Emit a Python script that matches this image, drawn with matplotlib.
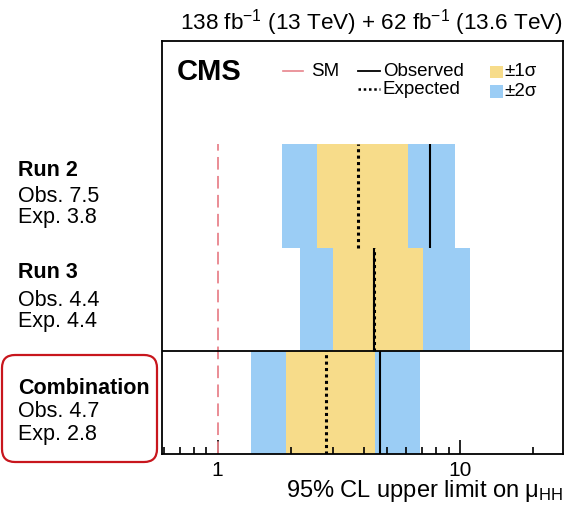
import matplotlib
matplotlib.use('Agg')
import matplotlib.pyplot as plt
import matplotlib.ticker as mticker
from matplotlib.patches import FancyBboxPatch, Rectangle
import numpy as np

plt.rcParams['font.family'] = ['Liberation Sans', 'DejaVu Sans']
plt.rcParams['mathtext.fontset'] = 'custom'
plt.rcParams['mathtext.rm'] = 'Liberation Sans'
plt.rcParams['mathtext.it'] = 'Liberation Sans:italic'
plt.rcParams['mathtext.bf'] = 'Liberation Sans:bold'

# Upper limits on mu_HH
rows = ['Run 2', 'Run 3', 'Combination']
observed = [7.5, 4.4, 4.7]
expected = [3.8, 4.4, 2.8]
band2_lo = [1.85, 2.19, 1.38]
band1_lo = [2.57, 2.99, 1.92]
band1_hi = [6.10, 7.07, 4.47]
band2_hi = [9.56, 10.96, 6.85]
row_y = [2, 1, 0]          # bottom edge of each row
sm_value = 1.0

c_yellow = '#F7DC8A'
c_blue = '#9BCDF5'
c_sm = '#E8848C'

W, H = 567, 513
fig = plt.figure(figsize=(W / 100, H / 100), dpi=100, facecolor='white')
ax = fig.add_axes([162 / W, 1 - 454 / H, 401 / W, 413 / H])

for i in range(len(rows)):
    y0 = row_y[i]
    ax.barh(y0, band2_hi[i] - band2_lo[i], left=band2_lo[i], height=1,
            align='edge', color=c_blue, linewidth=0, zorder=1)
    ax.barh(y0, band1_hi[i] - band1_lo[i], left=band1_lo[i], height=1,
            align='edge', color=c_yellow, linewidth=0, zorder=1)
    ax.vlines(observed[i], y0, y0 + 1, color='black', lw=1.5, zorder=3)
    ax.vlines(expected[i], y0, y0 + 1, color='black', lw=2.2,
              linestyles=(0, (1, 1.1)), zorder=4)

ax.vlines(sm_value, 0, 3, color=c_sm, lw=1.3, linestyles=(0, (7, 3.5)), zorder=2)
ax.axhline(1, color='black', lw=1.3, zorder=5)

ax.set_xscale('log')
ax.set_xlim(0.59, 26.6)
ax.set_ylim(0, 4)
ax.xaxis.set_major_locator(mticker.FixedLocator([1, 10]))
ax.xaxis.set_major_formatter(mticker.FixedFormatter(['1', '10']))
ax.xaxis.set_minor_locator(mticker.LogLocator(base=10, subs=np.arange(2, 10)))
ax.xaxis.set_minor_formatter(mticker.NullFormatter())
ax.tick_params(axis='x', which='major', direction='in', length=10, width=1.2,
               labelsize=15, pad=5, top=False)
ax.tick_params(axis='x', which='minor', direction='in', length=5, width=1.2, top=False)
ax.set_yticks([])
for s in ax.spines.values():
    s.set_linewidth(1.3)
    s.set_zorder(6)

# Legend (manual, in axes fraction)
tA = ax.transAxes
ax.text(0.037, 0.925, 'CMS', transform=tA, fontsize=21, fontweight='bold',
        ha='left', va='center')
ax.plot([0.302, 0.352], [0.927, 0.927], transform=tA, color=c_sm, lw=1.2)
ax.text(0.372, 0.927, 'SM', transform=tA, fontsize=13.5, ha='left', va='center')
ax.plot([0.489, 0.544], [0.927, 0.927], transform=tA, color='black', lw=1.3)
ax.text(0.551, 0.927, 'Observed', transform=tA, fontsize=13.5, ha='left', va='center')
ax.plot([0.489, 0.544], [0.884, 0.884], transform=tA, color='black', lw=1.8,
        linestyle=(0, (1, 1.1)))
ax.text(0.551, 0.882, 'Expected', transform=tA, fontsize=13.5, ha='left', va='center')
ax.add_patch(Rectangle((0.818, 0.910), 0.032, 0.030, transform=tA,
                       color=c_yellow, lw=0))
ax.text(0.853, 0.925, '±1σ', transform=tA, fontsize=13.5,
        ha='left', va='center')
ax.add_patch(Rectangle((0.818, 0.862), 0.032, 0.031, transform=tA,
                       color=c_blue, lw=0))
ax.text(0.853, 0.878, '±2σ', transform=tA, fontsize=13.5,
        ha='left', va='center')

# Title and axis label
fig.text(563 / W, 1 - 30 / H, r'138 fb$^{-1}$ (13 TeV) + 62 fb$^{-1}$ (13.6 TeV)',
         fontsize=16.2, ha='right', va='baseline')
fig.text(563 / W, 1 - 497 / H, r'95% CL upper limit on $\mathrm{\mu}_{\mathrm{HH}}$',
         fontsize=17, ha='right', va='baseline')

# Row labels on the left
row_center_px = [194, 298, 402]
offsets = [[-18, 8.5, 29.5], [-19.5, 7.5, 28.5], [-8, 15, 38]]
for i, name in enumerate(rows):
    lines = [name, f'Obs. {observed[i]}', f'Exp. {expected[i]}']
    for j, txt in enumerate(lines):
        fig.text(18 / W, 1 - (row_center_px[i] + offsets[i][j]) / H, txt,
                 fontsize=15.5, fontweight='bold' if j == 0 else 'normal',
                 ha='left', va='baseline')

# Red highlight around the combination label
box = FancyBboxPatch((0.02, 0.51), 1.55, 1.07,
                     boxstyle='round,pad=0,rounding_size=0.13',
                     transform=fig.dpi_scale_trans, fill=False,
                     edgecolor='#C8161D', linewidth=1.6)
fig.patches.append(box)

fig.savefig('out.png', dpi=100, facecolor='white')
